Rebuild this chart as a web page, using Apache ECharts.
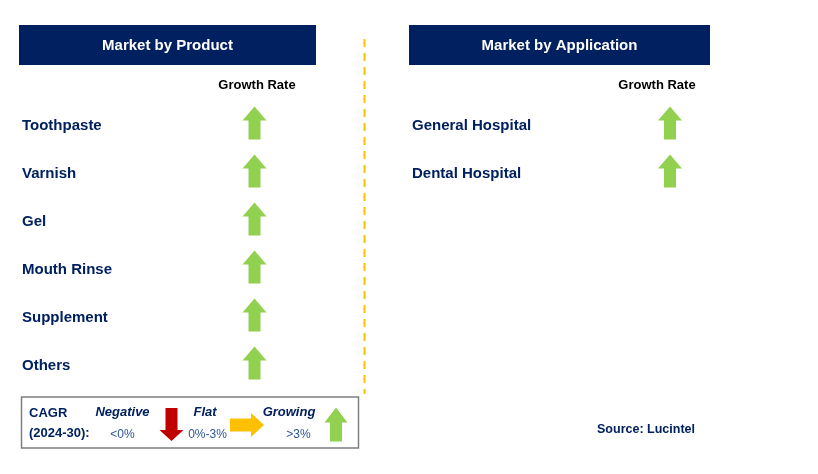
<!DOCTYPE html>
<html>
<head>
<meta charset="utf-8">
<script src="https://cdn.jsdelivr.net/npm/echarts@6/dist/echarts.min.js"></script>
<style>
html,body{margin:0;padding:0;background:#fff;}
#chart{width:818px;height:474px;}
</style>
</head>
<body>
<div id="chart"></div>
<script>
// ---- Data ----
const panelTitles = ['Market by Product', 'Market by Application'];
const columnTitle = 'Growth Rate';
const productCategories = ['Toothpaste', 'Varnish', 'Gel', 'Mouth Rinse', 'Supplement', 'Others'];
const productGrowth = ['up', 'up', 'up', 'up', 'up', 'up'];
const applicationCategories = ['General Hospital', 'Dental Hospital'];
const applicationGrowth = ['up', 'up'];
const legendTitle = ['CAGR', '(2024-30):'];
const legendNames = ['Negative', 'Flat', 'Growing'];
const legendRanges = ['<0%', '0%-3%', '>3%'];
const sourceText = 'Source: Lucintel';

// ---- Styles ----
const NAVY = '#002060';
const GREEN = '#92D050';
const RED = '#C00000';
const YELLOW = '#FFC000';
const FONT = '"Liberation Sans", Arial, sans-serif';

function arrowPoints(dir, cx, cy, len, width, headLen, shaft) {
  const h = len / 2, w = width / 2, s = shaft / 2;
  const up = [[0, -h], [w, -h + headLen], [s, -h + headLen], [s, h], [-s, h], [-s, -h + headLen], [-w, -h + headLen]];
  const pts = up.map(([x, y]) => {
    if (dir === 'down') return [x, -y];
    if (dir === 'right') return [-y, x];
    return [x, y];
  });
  return pts.map(([x, y]) => [cx + x, cy + y]);
}
const dirColor = { up: GREEN, down: RED, flat: YELLOW };
const dirShape = { up: 'up', down: 'down', flat: 'right' };

function makeRenderer(growthList) {
  return function (params, api) {
    const p = api.coord([api.value(0), api.value(1)]);
    const dir = growthList[params.dataIndex];
    return {
      type: 'polygon',
      shape: { points: arrowPoints(dirShape[dir], p[0], p[1] - 3, 33, 24, 14, 12) },
      style: { fill: dirColor[dir] }
    };
  };
}

const chart = echarts.init(document.getElementById('chart'));

function axisPair(gridIndex, cats, labelPad) {
  return {
    x: {
      type: 'category', gridIndex, position: 'top',
      data: ['Segment', columnTitle],
      axisLine: { show: false }, axisTick: { show: false }, splitLine: { show: false },
      axisLabel: {
        margin: 10, fontFamily: FONT, fontSize: 13, fontWeight: 'bold', color: '#000',
        padding: labelPad,
        formatter: v => (v === columnTitle ? v : '')
      }
    },
    y: {
      type: 'category', gridIndex, inverse: true, data: cats,
      axisLine: { show: false }, axisTick: { show: false }, splitLine: { show: false },
      axisLabel: { inside: true, margin: 3, fontFamily: FONT, fontSize: 15, fontWeight: 'bold', color: NAVY }
    }
  };
}
const a0 = axisPair(0, productCategories, [0, 0, 0, 5]);
const a1 = axisPair(1, applicationCategories, [0, 26, 0, 0]);

const legendY1 = 412, legendY2 = 435;
const graphics = [
  { type: 'rect', shape: { x: 19, y: 25, width: 297, height: 40 }, style: { fill: NAVY } },
  { type: 'text', x: 167.5, y: 45.5, style: { text: panelTitles[0], fill: '#fff', font: 'bold 15px ' + FONT, align: 'center', verticalAlign: 'middle' } },
  { type: 'rect', shape: { x: 409, y: 25, width: 301, height: 40 }, style: { fill: NAVY } },
  { type: 'text', x: 559.5, y: 45.5, style: { text: panelTitles[1], fill: '#fff', font: 'bold 15px ' + FONT, align: 'center', verticalAlign: 'middle' } },
  { type: 'line', shape: { x1: 364.5, y1: 39, x2: 364.5, y2: 394 }, style: { stroke: YELLOW, lineWidth: 2, lineDash: [8, 6] } },
  { type: 'rect', shape: { x: 21.5, y: 397, width: 337, height: 51 }, style: { fill: '#fff', stroke: '#7F7F7F', lineWidth: 1.5 } },
  { type: 'text', x: 29, y: legendY1 + 1, style: { text: legendTitle[0], fill: NAVY, font: 'bold 13px ' + FONT, verticalAlign: 'middle' } },
  { type: 'text', x: 29, y: 433, style: { text: legendTitle[1], fill: NAVY, font: 'bold 13px ' + FONT, verticalAlign: 'middle' } },
  { type: 'text', x: 122.5, y: legendY1, style: { text: legendNames[0], fill: NAVY, font: 'italic bold 13px ' + FONT, align: 'center', verticalAlign: 'middle' } },
  { type: 'text', x: 122.5, y: legendY2, style: { text: legendRanges[0], fill: '#2F5597', font: '12px ' + FONT, align: 'center', verticalAlign: 'middle' } },
  { type: 'polygon', shape: { points: arrowPoints('down', 171.5, 424.5, 33, 24, 11, 12) }, style: { fill: RED } },
  { type: 'text', x: 205, y: legendY1, style: { text: legendNames[1], fill: NAVY, font: 'italic bold 13px ' + FONT, align: 'center', verticalAlign: 'middle' } },
  { type: 'text', x: 207.5, y: legendY2, style: { text: legendRanges[1], fill: '#2F5597', font: '12px ' + FONT, align: 'center', verticalAlign: 'middle' } },
  { type: 'polygon', shape: { points: arrowPoints('right', 247, 425, 34, 24, 13, 13) }, style: { fill: YELLOW } },
  { type: 'text', x: 289, y: legendY1, style: { text: legendNames[2], fill: NAVY, font: 'italic bold 13px ' + FONT, align: 'center', verticalAlign: 'middle' } },
  { type: 'text', x: 298.5, y: legendY2, style: { text: legendRanges[2], fill: '#2F5597', font: '12px ' + FONT, align: 'center', verticalAlign: 'middle' } },
  { type: 'polygon', shape: { points: arrowPoints('up', 336, 424.5, 34, 23, 15, 12) }, style: { fill: GREEN } },
  { type: 'text', x: 646, y: 430, style: { text: sourceText, fill: NAVY, font: 'bold 12.5px ' + FONT, align: 'center', verticalAlign: 'middle' } }
];

chart.setOption({
  animation: false,
  backgroundColor: '#fff',
  grid: [
    { left: 19, top: 102, width: 314, height: 288 },
    { left: 409, top: 102, width: 348, height: 96 }
  ],
  xAxis: [a0.x, a1.x],
  yAxis: [a0.y, a1.y],
  series: [
    {
      type: 'custom', xAxisIndex: 0, yAxisIndex: 0, renderItem: makeRenderer(productGrowth),
      data: productCategories.map(c => [columnTitle, c])
    },
    {
      type: 'custom', xAxisIndex: 1, yAxisIndex: 1, renderItem: makeRenderer(applicationGrowth),
      data: applicationCategories.map(c => [columnTitle, c])
    }
  ],
  graphic: graphics
});
</script>
</body>
</html>
